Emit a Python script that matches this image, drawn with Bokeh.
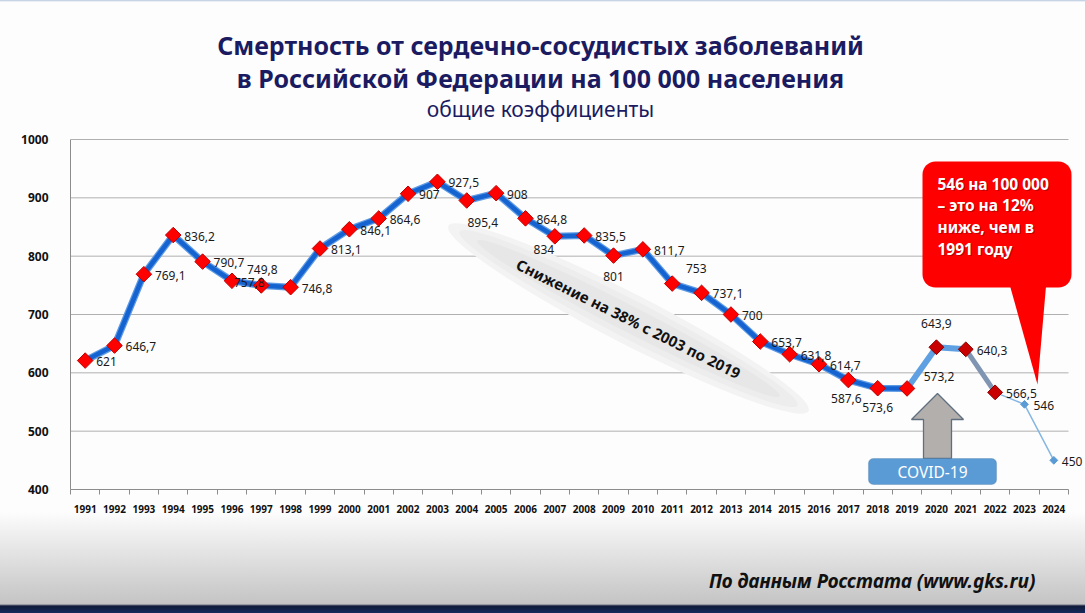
import math
from bokeh.plotting import figure
from bokeh.layouts import column
from bokeh.models import (Range1d, FixedTicker, ColumnDataSource, LabelSet, Label,
                          BoxAnnotation)
from bokeh.core.properties import value
from bokeh.embed import file_html
from bokeh.resources import INLINE

# ---------------- data ----------------
years = list(range(1991, 2025))
values = [621, 646.7, 769.1, 836.2, 790.7, 757.8, 749.8, 746.8, 813.1, 846.1,
          864.6, 907, 927.5, 895.4, 908, 864.8, 834, 835.5, 801, 811.7,
          753, 737.1, 700, 653.7, 631.8, 614.7, 587.6, 573.6, 573.2, 643.9,
          640.3, 566.5, 546, 450]
value_labels = ["621", "646,7", "769,1", "836,2", "790,7", "757,8", "749,8", "746,8",
                "813,1", "846,1", "864,6", "907", "927,5", "895,4", "908", "864,8",
                "834", "835,5", "801", "811,7", "753", "737,1", "700", "653,7",
                "631,8", "614,7", "587,6", "573,6", "573,2", "643,9", "640,3",
                "566,5", "546", "450"]
x_tick_labels = [str(y) for y in years]
y_ticks = [400, 500, 600, 700, 800, 900, 1000]

title_line1 = "Смертность от сердечно-сосудистых заболеваний"
title_line2 = "в Российской Федерации на 100 000 населения"
subtitle = "общие коэффициенты"
trend_note = "Снижение на 38% с 2003 по 2019"
callout_lines = ["546 на 100 000", "– это на 12%", "ниже, чем в", "1991 году"]
covid_note = "COVID-19"
source_note = "По данным Росстата (www.gks.ru)"

# ---------------- label placement (pixel offsets; + right / + down) -------------
# mode 'r' = text starts right of point, 'c' = text centred at offset
label_mode = ['r'] * 34
label_dx = [11] * 34
label_dy = [1] * 34
for i, (m, dx, dy) in {5: ('r', 2, 2), 6: ('c', 1, -16), 13: ('c', 16, 22),
                       16: ('c', -11, 13), 18: ('c', 0, 21),
                       20: ('c', 24, -15), 26: ('c', -2, 18), 27: ('c', 0, 19),
                       28: ('c', 32, -12), 29: ('c', 0, -24), 32: ('r', 9, 1),
                       33: ('r', 8, 1)}.items():
    label_mode[i], label_dx[i], label_dy[i] = m, dx, dy

# ---------------- geometry (page pixels) ----------------
W, H = 1085, 613
MAIN_H = 529                     # main figure height, footer strip below
FL, FB = 70, 489                 # frame left / axis baseline
SX = 998 / 34.0                  # px per year
SY = 350 / 600.0                 # px per unit
X0 = 1990.5
X1 = X0 + (W - FL) / SX
Y0 = 400
Y1 = Y0 + FB / SY
GRID_END = 2024.5


def dx_(px):
    return X0 + (px - FL) / SX


def dy_(py):
    return Y0 + (FB - py) / SY


p = figure(width=W, height=MAIN_H, x_range=Range1d(X0, X1), y_range=Range1d(Y0, Y1),
           output_backend="svg", toolbar_location=None,
           min_border_left=FL, min_border_right=0,
           min_border_top=0, min_border_bottom=MAIN_H - FB)
p.border_fill_color = None
p.background_fill_color = None
p.outline_line_color = None
p.styles = {"background": "linear-gradient(to bottom, #b4c6dc 0px, #fdfdfd 2px, "
                          "#fdfdfd 512px, #f2f2f2 529px)"}

# axes
p.xaxis.ticker = FixedTicker(ticks=years,
                             minor_ticks=[y - 0.5 for y in years] + [years[-1] + 0.5])
p.xaxis.bounds = (X0, GRID_END)
p.xaxis.major_label_overrides = {y: lab for y, lab in zip(years, x_tick_labels)}
p.xaxis.major_tick_in = 0
p.xaxis.major_tick_out = 0
p.xaxis.minor_tick_in = 0
p.xaxis.minor_tick_out = 5
p.xaxis.minor_tick_line_color = "#8c8c8c"
p.xaxis.axis_line_color = "#8c8c8c"
p.xaxis.major_label_standoff = 10
p.xaxis.major_label_text_font = "Noto Sans"
p.xaxis.major_label_text_font_style = "bold"
p.xaxis.major_label_text_font_size = "10px"
p.xaxis.major_label_text_color = "#111111"

p.yaxis.ticker = FixedTicker(ticks=y_ticks)
p.yaxis.bounds = (y_ticks[0], y_ticks[-1])
p.yaxis.major_tick_in = 0
p.yaxis.major_tick_out = 0
p.yaxis.minor_tick_line_color = None
p.yaxis.axis_line_color = "#8c8c8c"
p.yaxis.major_label_standoff = 22
p.yaxis.major_label_text_font = "Noto Sans"
p.yaxis.major_label_text_font_style = "bold"
p.yaxis.major_label_text_font_size = "12px"
p.yaxis.major_label_text_color = "#111111"

p.xgrid.grid_line_color = None
p.ygrid.grid_line_color = None
gl = y_ticks[1:]
p.segment(x0=[X0] * len(gl), y0=gl, x1=[GRID_END] * len(gl), y1=gl,
          line_color="#b0b0b0", line_width=1, level="underlay")

# trend ellipse (shadow band)
ecx, ecy = dx_(628), dy_(318)
for w_, h_, c_ in [(405, 50, "#f3f3f3"), (380, 38, "#ededed"), (340, 26, "#e7e7e7")]:
    p.ellipse(x=[ecx], y=[ecy], width=w_, height=h_, width_units="screen",
              height_units="screen", angle=-0.475, fill_color=c_, line_color=None)

# lines
main_x, main_y = years[:29], values[:29]
p.line(main_x, main_y, line_color="#5d9ae4", line_width=7, line_join="round")
p.line(main_x, main_y, line_color="#1463d0", line_width=4.5, line_join="round")
p.line(years[28:31], values[28:31], line_color="#5fa0e2", line_width=6, line_join="round")
p.line(years[30:32], values[30:32], line_color="#8095b2", line_width=5)
p.line(years[31:34], values[31:34], line_color="#86b6e2", line_width=1.5)

# markers
p.scatter(years[:29], values[:29], marker="square", angle=math.pi / 4, size=11,
          fill_color="#ff0000", line_color="#c00000", line_width=1)
p.scatter(years[29:32], values[29:32], marker="square", angle=math.pi / 4, size=10.5,
          fill_color="#c80000", line_color="#8a0000", line_width=1)
p.scatter(years[32:34], values[32:34], marker="square", angle=math.pi / 4, size=5.5,
          fill_color="#5b9bd5", line_color="#5b9bd5")

# data labels
r_idx = [i for i in range(34) if label_mode[i] == 'r']
c_idx = [i for i in range(34) if label_mode[i] == 'c']
for idx, align in [(r_idx, "left"), (c_idx, "center")]:
    s = ColumnDataSource(dict(x=[years[i] for i in idx], y=[values[i] for i in idx],
                              t=[value_labels[i] for i in idx],
                              ox=[label_dx[i] for i in idx],
                              oy=[-label_dy[i] for i in idx]))
    p.add_layout(LabelSet(x="x", y="y", text="t", source=s, x_offset="ox", y_offset="oy",
                          text_align=align, text_baseline="middle",
                          text_font=value("Noto Sans"), text_font_size="12px",
                          text_color="#1a1a1a"))

# trend note
p.add_layout(Label(x=ecx, y=ecy, text=trend_note, angle=-0.463, text_align="center",
                   text_baseline="middle", text_font="Noto Sans", text_font_style="bold",
                   text_font_size="15px", text_color="#111111"))

# callout
p.add_layout(BoxAnnotation(left=dx_(922), right=dx_(1071), top=dy_(161), bottom=dy_(287),
                           fill_color="#ff0000", fill_alpha=1, line_color=None,
                           border_radius=13, level="annotation"))
p.patch([dx_(1008), dx_(1046), dx_(1037)], [dy_(280), dy_(280), dy_(384)],
        fill_color="#ff0000", line_color=None)
for k, line in enumerate(callout_lines):
    yy = dy_(183 + k * 21.7)
    p.add_layout(Label(x=dx_(937), y=yy, x_offset=1, y_offset=-1, text=line,
                       text_align="left", text_baseline="middle", text_font="Noto Sans",
                       text_font_style="bold", text_font_size="15.5px",
                       text_color="#6a0000", text_alpha=0.45))
    p.add_layout(Label(x=dx_(937), y=yy, text=line, text_align="left",
                       text_baseline="middle", text_font="Noto Sans",
                       text_font_style="bold", text_font_size="15.5px",
                       text_color="#ffffff"))

# COVID arrow and box
ax = [937, 963, 951, 951, 923, 923, 911]
ay = [393, 419, 419, 458, 458, 419, 419]
p.patch([dx_(v) for v in ax], [dy_(v) for v in ay], fill_color="#b3afad",
        line_color="#5f6f80", line_width=1.3)
p.add_layout(BoxAnnotation(left=dx_(868), right=dx_(996), top=dy_(458), bottom=dy_(484),
                           fill_color="#5b9bd5", fill_alpha=1, line_color="#41719c",
                           line_width=1.2, border_radius=5))
p.add_layout(Label(x=dx_(932), y=dy_(471), text=covid_note, text_align="center",
                   text_baseline="middle", text_font="Noto Sans", text_font_size="15.5px",
                   text_color="#ffffff"))

# titles
for txt, py, size, style in [(title_line1, 44, "25px", "bold"),
                             (title_line2, 77, "25px", "bold"),
                             (subtitle, 108, "21px", "normal")]:
    p.add_layout(Label(x=dx_(540), y=dy_(py), text=txt, text_align="center",
                       text_baseline="middle", text_font="Noto Sans",
                       text_font_style=style, text_font_size=size,
                       text_color="#1b1b62"))

# footer strip
f = figure(width=W, height=H - MAIN_H, x_range=Range1d(0, W), y_range=Range1d(H, MAIN_H),
           output_backend="svg", toolbar_location=None, x_axis_type=None, y_axis_type=None,
           min_border=0)
f.grid.grid_line_color = None
f.outline_line_color = None
f.border_fill_color = None
f.background_fill_color = None
f.styles = {"background": "linear-gradient(to bottom, #f2f2f2 0px, #c4c4c4 75px, "
                          "#0e1a38 77px, #152a5c 84px)"}
f.add_layout(Label(x=857, y=580, text=source_note, text_align="center",
                   text_baseline="middle", text_font="Noto Sans",
                   text_font_style="bold italic", text_font_size="19px",
                   text_color="#111111"))

layout = column(p, f, spacing=0)
open("out.html", "w").write(file_html(layout, INLINE))
